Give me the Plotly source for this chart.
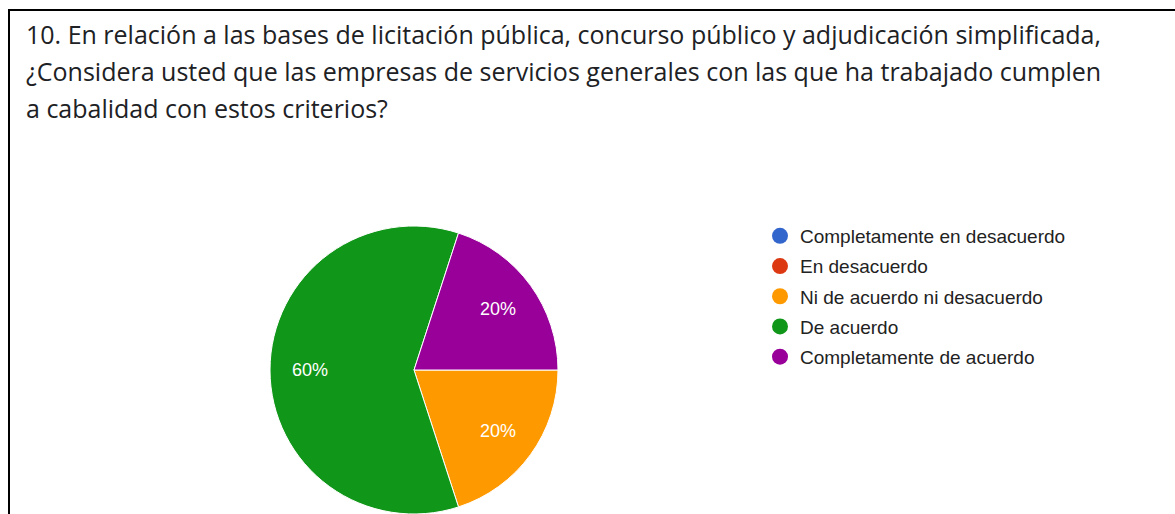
import math
import plotly.graph_objects as go

labels = ["Completamente en desacuerdo", "En desacuerdo", "Ni de acuerdo ni desacuerdo",
          "De acuerdo", "Completamente de acuerdo"]
values = [0, 0, 1, 3, 1]
colors = ["#3366cc", "#dc3912", "#ff9900", "#109618", "#990099"]
title_lines = [
    "10. En relación a las bases de licitación pública, concurso público y adjudicación simplificada,",
    "¿Considera usted que las empresas de servicios generales con las que ha trabajado cumplen",
    "a cabalidad con estos criterios?",
]

W, H = 1175, 514
# pie geometry (pixels)
CX, CY, R = 414, 370, 144
START = 90  # degrees clockwise from 12 o'clock

fig = go.Figure()

fig.add_trace(go.Pie(
    labels=labels, values=values, sort=False, direction="clockwise", rotation=START,
    marker=dict(colors=colors, line=dict(color="white", width=1)),
    textinfo="none", showlegend=False, hoverinfo="label+percent",
    domain=dict(x=[(CX - R) / W, (CX + R) / W], y=[(H - CY - R) / H, (H - CY + R) / H]),
))

# percentage labels placed along each slice bisector (Google-Charts style)
total = sum(values)
acc = 0
for v in values:
    if v > 0:
        mid = START + (acc + v / 2) / total * 360
        rad = math.radians(mid)
        px = CX + 0.72 * R * math.sin(rad)
        py = CY - 0.72 * R * math.cos(rad)
        fig.add_annotation(
            text=f"{round(100 * v / total)}%", xref="paper", yref="paper",
            x=px / W, y=1 - py / H, xanchor="center", yanchor="middle", showarrow=False,
            font=dict(family="Liberation Sans, Arial", size=18, color="white"),
        )
    acc += v

for i, (lab, col) in enumerate(zip(labels, colors)):
    fig.add_trace(go.Scatter(
        x=[None], y=[None], mode="markers", name=lab, legendgroup=f"g{i}",
        marker=dict(color=col, size=19, symbol="circle"),
    ))

for i, line in enumerate(title_lines):
    fig.add_annotation(
        text=line, xref="paper", yref="paper", x=24 / W, y=1 - (34 + 37 * i) / H,
        xanchor="left", yanchor="middle", showarrow=False,
        font=dict(family="Open Sans", size=25, color="#202124"),
    )

fig.add_shape(type="line", xref="paper", yref="paper", x0=8 / W, x1=1, y0=1 - 10 / H, y1=1 - 10 / H,
              line=dict(color="black", width=2))
fig.add_shape(type="line", xref="paper", yref="paper", x0=9 / W, x1=9 / W, y0=0, y1=1 - 10 / H,
              line=dict(color="black", width=2))

fig.update_layout(
    width=W, height=H, margin=dict(l=0, r=0, t=0, b=0),
    paper_bgcolor="white", plot_bgcolor="white",
    xaxis=dict(visible=False), yaxis=dict(visible=False),
    legend=dict(x=760 / W, y=1 - 217 / H, xanchor="left", yanchor="top",
                font=dict(family="Liberation Sans, Arial", size=19, color="#222222"),
                tracegroupgap=2.5, bgcolor="rgba(0,0,0,0)"),
)

fig.write_html("out.html", config={"displayModeBar": False},
               post_script="document.body.style.margin='0';")
